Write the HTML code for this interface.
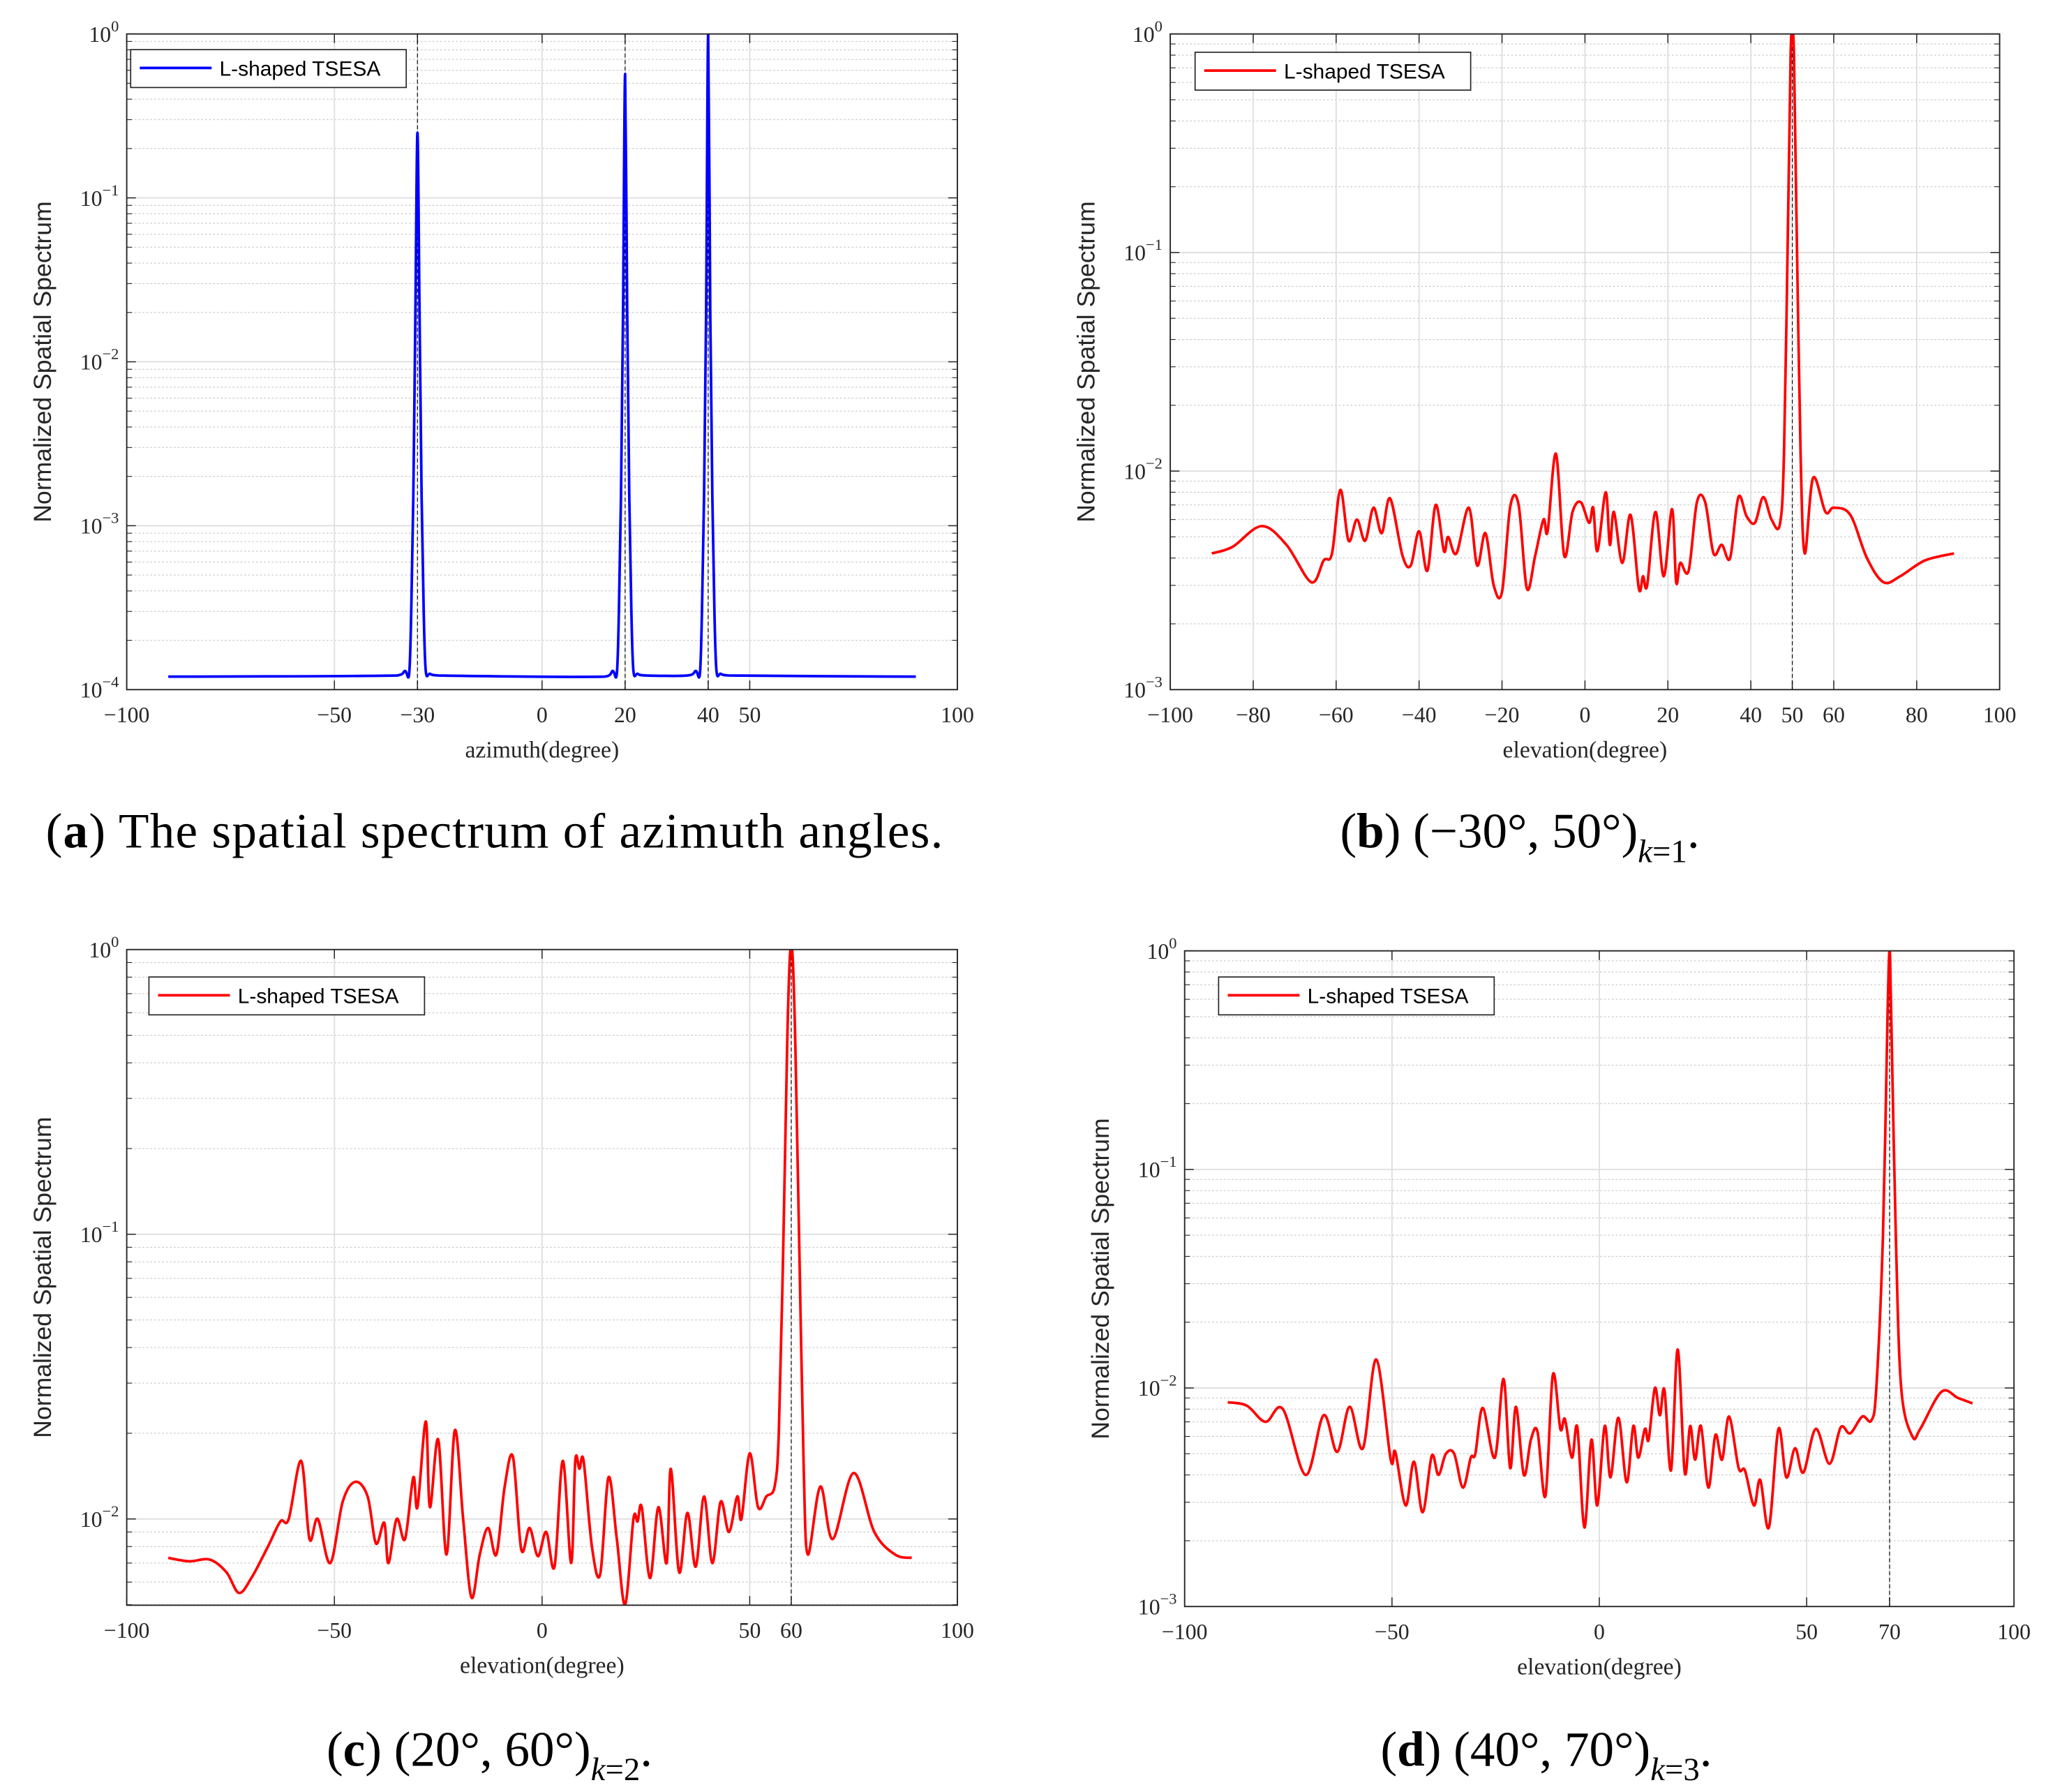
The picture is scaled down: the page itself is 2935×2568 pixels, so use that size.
<!DOCTYPE html>
<html><head><meta charset="utf-8"><style>
html,body{margin:0;padding:0;background:#fff;}
svg{display:block;}
.tick{font-family:"Liberation Serif",serif;font-size:17px;fill:#262626;}
.ylab{font-family:"Liberation Sans",sans-serif;font-size:19px;fill:#262626;}
.xlab{font-family:"Liberation Serif",serif;font-size:18px;fill:#262626;}
.leg{font-family:"Liberation Sans",sans-serif;font-size:16px;fill:#000;}
.cap{font-family:"Liberation Serif",serif;font-size:38px;fill:#000;}
</style></head><body>
<svg id="fig" width="2935" height="2568" viewBox="0 0 1568 1372" xmlns="http://www.w3.org/2000/svg">
<text class="cap" x="35" y="649" textLength="687">(<tspan font-weight="bold">a</tspan>) The spatial spectrum of azimuth angles.</text>
<text class="cap" x="1026" y="649">(<tspan font-weight="bold">b</tspan>) (−30°, 50°)<tspan font-style="italic" font-size="25" dy="11">k</tspan><tspan font-size="25">=1</tspan><tspan dy="-11">.</tspan></text>
<text class="cap" x="250" y="1352">(<tspan font-weight="bold">c</tspan>) (20°, 60°)<tspan font-style="italic" font-size="25" dy="11">k</tspan><tspan font-size="25">=2</tspan><tspan dy="-11">.</tspan></text>
<text class="cap" x="1057" y="1352">(<tspan font-weight="bold">d</tspan>) (40°, 70°)<tspan font-style="italic" font-size="25" dy="11">k</tspan><tspan font-size="25">=3</tspan><tspan dy="-11">.</tspan></text>
</svg>
<script>
// Panel (a) azimuth spectrum
const aX=[-90,-35,-33,-32,-31.5,-31,-30.5,-30,-29.5,-29,-28.5,-28,-27,-25,15,17,18,18.5,19,19.5,20,20.5,21,21.5,22,23,25,35,37,38,38.5,39,39.5,40,40.5,41,41.5,42,43,45,90];
const aY=[1.2e-4,1.22e-4,1.3e-4,1.25e-4,3e-4,1.5e-3,2e-2,0.25,2e-2,1.5e-3,3e-4,1.3e-4,1.25e-4,1.22e-4,1.2e-4,1.3e-4,1.25e-4,3e-4,1.5e-3,2e-2,0.57,2e-2,1.5e-3,3e-4,1.3e-4,1.25e-4,1.22e-4,1.22e-4,1.3e-4,1.25e-4,3e-4,1.5e-3,2e-2,1.0,2e-2,1.5e-3,3e-4,1.3e-4,1.25e-4,1.22e-4,1.2e-4];
// Panel (b)
const bX=[-90,-85,-78,-72,-66,-63,-61,-59,-57,-55,-53,-51,-49,-47,-44,-42,-40,-38,-36,-34,-33,-31,-28,-26,-24,-22,-20,-18,-16,-14,-12,-10,-9,-7,-5,-3,-1,1,2,3,5,6,7,9,11,13,14,15,17,19,21,22,23,25,27,29,31,33,35,37,39,41,43,45,47,48,49,49.6,50,50.4,51,52,53,55,58,60,64,68,72,76,82,89];
const bY=[4.2e-3,4.5e-3,5.6e-3,4.6e-3,3.1e-3,3.9e-3,4.2e-3,8.2e-3,4.8e-3,6.0e-3,4.8e-3,6.8e-3,5.2e-3,7.5e-3,4.1e-3,3.7e-3,5.3e-3,3.5e-3,7.0e-3,4.3e-3,5.0e-3,4.2e-3,6.8e-3,3.7e-3,5.2e-3,3.0e-3,2.8e-3,6.9e-3,7.0e-3,2.9e-3,4.1e-3,6.0e-3,5.3e-3,1.2e-2,4.1e-3,6.5e-3,7.2e-3,5.8e-3,6.8e-3,4.3e-3,8.0e-3,4.6e-3,6.5e-3,3.8e-3,6.3e-3,2.9e-3,3.3e-3,3.0e-3,6.5e-3,3.3e-3,6.7e-3,3.1e-3,3.8e-3,3.5e-3,7.2e-3,7.2e-3,4.2e-3,4.6e-3,4.0e-3,7.6e-3,6.2e-3,5.8e-3,7.6e-3,6.0e-3,5.7e-3,1.2e-2,0.15,0.8,1.0,0.8,0.15,1.2e-2,4.2e-3,9.3e-3,6.5e-3,6.8e-3,6.3e-3,4.0e-3,3.1e-3,3.3e-3,3.9e-3,4.2e-3];
// Panel (c)
const cX=[-90,-85,-80,-76,-73,-70,-66,-63,-61,-58,-56,-54,-51,-48,-45,-42,-40,-38,-37,-35,-33,-31,-30,-28,-27,-25,-23,-21,-19,-17,-15,-13,-11,-9,-7,-5,-3,-1,1,3,5,7,8,9,10,12,14,16,18,20,22,23,24,26,28,30,31,33,35,37,39,41,43,45,47,48,50,52,54,56,57,58,59,59.6,60,60.4,61,62,63,64,67,70,75,80,85,89];
const cY=[7.3e-3,7.1e-3,7.2e-3,6.5e-3,5.5e-3,6.2e-3,8e-3,9.8e-3,1.0e-2,1.6e-2,8.5e-3,1.0e-2,7e-3,1.15e-2,1.35e-2,1.2e-2,8.2e-3,9.7e-3,7e-3,1.0e-2,8.5e-3,1.4e-2,1.1e-2,2.2e-2,1.1e-2,1.9e-2,7.5e-3,2.05e-2,1.0e-2,5.3e-3,7.5e-3,9.3e-3,7.5e-3,1.3e-2,1.65e-2,7.8e-3,9.3e-3,7.4e-3,9e-3,6.8e-3,1.6e-2,7e-3,1.6e-2,1.5e-2,1.6e-2,8e-3,6.4e-3,1.4e-2,8.5e-3,5e-3,1.0e-2,9.8e-3,1.1e-2,6.2e-3,1.1e-2,7e-3,1.5e-2,6.5e-3,1.05e-2,6.8e-3,1.2e-2,7e-3,1.15e-2,9e-3,1.2e-2,1.0e-2,1.7e-2,1.1e-2,1.2e-2,1.3e-2,2e-2,0.08,0.45,0.9,1.0,0.9,0.45,0.08,1.5e-2,7.5e-3,1.3e-2,8.5e-3,1.45e-2,9e-3,7.5e-3,7.3e-3];
// Panel (d)
const dX=[-89.6,-85,-80.5,-76.3,-70.8,-66.5,-63.2,-60.2,-57,-53.8,-50.3,-49.2,-46.7,-44.7,-42.6,-40.4,-38.8,-37,-35,-32.9,-31,-29.9,-28.1,-25.2,-23.1,-21.5,-20.1,-18.2,-16.5,-14.9,-13,-11.2,-9.4,-8.3,-6.6,-5.3,-3.6,-1.9,-0.5,1.3,2.7,4.6,6.6,8.2,9.4,11,11.9,13.4,14.6,15.7,17.3,18.9,20.6,21.9,23.1,24.5,26.3,28,29.6,31.3,33.6,35.1,37.3,38.8,40.9,43.2,45.1,47.2,49.2,52.2,55.5,58.2,60.5,63.4,65.6,66.8,68.4,69.5,70,70.4,71.5,72.8,75.5,77.4,82.5,86.5,90];
const dY=[8.6e-3,8.3e-3,7.0e-3,8.0e-3,4.0e-3,7.5e-3,5.1e-3,8.2e-3,5.3e-3,1.35e-2,4.7e-3,5.1e-3,2.9e-3,4.6e-3,2.7e-3,4.9e-3,4.0e-3,5.0e-3,5.0e-3,3.5e-3,4.8e-3,5.0e-3,8.1e-3,4.8e-3,1.1e-2,4.3e-3,8.2e-3,4.0e-3,5.8e-3,6.3e-3,3.2e-3,1.15e-2,6.5e-3,7.2e-3,4.8e-3,6.6e-3,2.3e-3,5.8e-3,2.9e-3,6.7e-3,3.9e-3,7.3e-3,3.7e-3,6.7e-3,4.8e-3,6.5e-3,5.8e-3,1.0e-2,7.5e-3,9.8e-3,4.2e-3,1.5e-2,4.1e-3,6.7e-3,4.7e-3,6.7e-3,3.5e-3,6.1e-3,4.7e-3,7.4e-3,4.3e-3,4.2e-3,2.9e-3,3.8e-3,2.3e-3,6.5e-3,3.9e-3,5.3e-3,4.1e-3,6.5e-3,4.5e-3,6.6e-3,6.2e-3,7.4e-3,7.1e-3,1.0e-2,5e-2,0.5,1.0,0.5,5e-2,1.0e-2,6.0e-3,6.5e-3,9.6e-3,9.0e-3,8.5e-3];
const aTicks=[-100,-50,-30,0,20,40,50,100];
const bTicks=[-100,-80,-60,-40,-20,0,20,40,50,60,80,100];
const cTicks=[-100,-50,0,50,60,100];
const dTicks=[-100,-50,0,50,70,100];
const aPeaks=[-30,20,40], bPeaks=[50], cPeaks=[60], dPeaks=[70];

const NS="http://www.w3.org/2000/svg";
const svg=document.getElementById('fig');
function mk(tag,attrs,parent){const e=document.createElementNS(NS,tag);for(const k in attrs)e.setAttribute(k,attrs[k]);(parent||svg).appendChild(e);return e;}

function panel(id,L,R,T,B,ymin,ymax,ticks,peaks,xs,ys,color,xlabel,legX,legY){
  const g=mk('g',{});
  
  
  const lmin=Math.log10(ymin),lmax=Math.log10(ymax);
  const sx=v=>L+(v+100)/200*(R-L);
  const sy=v=>B-(Math.log10(v)-lmin)/(lmax-lmin)*(B-T);
  for(let e=Math.floor(lmin);e<lmax;e++){for(let m=2;m<=9;m++){const v=m*Math.pow(10,e);if(v<ymin||v>ymax)continue;const y=sy(v);
    const l=mk('line',{x1:L,x2:R,y1:y,y2:y,stroke:'#c8c8c8','stroke-width':0.6,'stroke-dasharray':'1.5,1.5'},g);
    
    
    mk('line',{x1:L,x2:L+4,y1:y,y2:y,stroke:'#262626','stroke-width':0.6},g);
    mk('line',{x1:R,x2:R-4,y1:y,y2:y,stroke:'#262626','stroke-width':0.6},g);}}
  for(let e=Math.ceil(lmin);e<=lmax;e++){const y=sy(Math.pow(10,e));
    const l=mk('line',{x1:L,x2:R,y1:y,y2:y,stroke:'#dcdcdc','stroke-width':0.9},g);
    
    
    mk('line',{x1:L,x2:L+7,y1:y,y2:y,stroke:'#262626','stroke-width':0.8},g);
    mk('line',{x1:R,x2:R-7,y1:y,y2:y,stroke:'#262626','stroke-width':0.8},g);
    const t=mk('text',{class:'tick',x:L-6,y:y+6,'text-anchor':'end'},g);
    
    
    t.textContent='10';const s=mk('tspan',{dy:-8,'font-size':12},t);s.textContent=(e<0?'−':'')+Math.abs(e);}
  ticks.forEach(v=>{const x=sx(v);
    const l=mk('line',{x1:x,x2:x,y1:T,y2:B,stroke:'#dcdcdc','stroke-width':0.9},g);
    
    
    mk('line',{x1:x,x2:x,y1:B,y2:B-7,stroke:'#262626','stroke-width':0.8},g);
    mk('line',{x1:x,x2:x,y1:T,y2:T+7,stroke:'#262626','stroke-width':0.8},g);
    const t=mk('text',{class:'tick',x:x,y:B+25,'text-anchor':'middle'},g);
    
    
    t.textContent=(v<0?'−':'')+Math.abs(v);});
  peaks.forEach(v=>{const x=sx(v);
    const l=mk('line',{x1:x,x2:x,y1:T,y2:B,stroke:'#000','stroke-width':0.6,'stroke-dasharray':'3,2'},g);
    
    });
  const cp=mk('clipPath',{id:'clip'+id},g);mk('rect',{x:L,y:T,width:R-L,height:B-T},cp);
  const P=xs.map((x,i)=>[sx(x),sy(ys[i])]);
  let d='M'+P[0][0]+','+P[0][1];
  for(let i=0;i<P.length-1;i++){const p0=P[Math.max(0,i-1)],p1=P[i],p2=P[i+1],p3=P[Math.min(P.length-1,i+2)];
    const k=1/6;
    const c1=[p1[0]+(p2[0]-p0[0])*k,p1[1]+(p2[1]-p0[1])*k],c2=[p2[0]-(p3[0]-p1[0])*k,p2[1]-(p3[1]-p1[1])*k];
    c1[0]=Math.min(Math.max(c1[0],p1[0]),p2[0]);c2[0]=Math.min(Math.max(c2[0],p1[0]),p2[0]);
    d+=' C'+c1[0]+','+c1[1]+' '+c2[0]+','+c2[1]+' '+p2[0]+','+p2[1];}
  const path=mk('path',{d:d,fill:'none',stroke:color,'stroke-width':2,'clip-path':'url(#clip'+id+')','stroke-linejoin':'round'},g);
  
  
  const f=mk('rect',{x:L,y:T,width:R-L,height:B-T,fill:'none',stroke:'#262626','stroke-width':1},g);
  
  
  const xl=mk('text',{class:'xlab',x:(L+R)/2,y:B+52,'text-anchor':'middle'},g);
  
  
  xl.textContent=xlabel;
  const yl=mk('text',{class:'ylab',x:0,y:0,'text-anchor':'middle',transform:'translate('+(L-58)+','+((T+B)/2)+') rotate(-90)'},g);
  
  
  yl.textContent='Normalized Spatial Spectrum';
  const lg=mk('g',{},g);
  
  
  mk('rect',{x:legX,y:legY,width:211,height:29,fill:'#fff',stroke:'#262626','stroke-width':0.9},lg);
  mk('line',{x1:legX+7,x2:legX+62,y1:legY+14,y2:legY+14,stroke:color,'stroke-width':2},lg);
  const lt=mk('text',{class:'leg',x:legX+68,y:legY+20},lg);
  
  
  lt.textContent='L-shaped TSESA';
}
panel('a',97,733,26,528,1e-4,1,aTicks,aPeaks,aX,aY,'#0000ff','azimuth(degree)',100,38);
panel('b',896,1531,26,528,1e-3,1,bTicks,bPeaks,bX,bY,'#ff0000','elevation(degree)',915,40);
panel('c',97,733,727,1229,Math.pow(10,-2.303),1,cTicks,cPeaks,cX,cY,'#ff0000','elevation(degree)',114,748);
panel('d',907,1542,728,1230,1e-3,1,dTicks,dPeaks,dX,dY,'#ff0000','elevation(degree)',933,748);
</script>
</body></html>
